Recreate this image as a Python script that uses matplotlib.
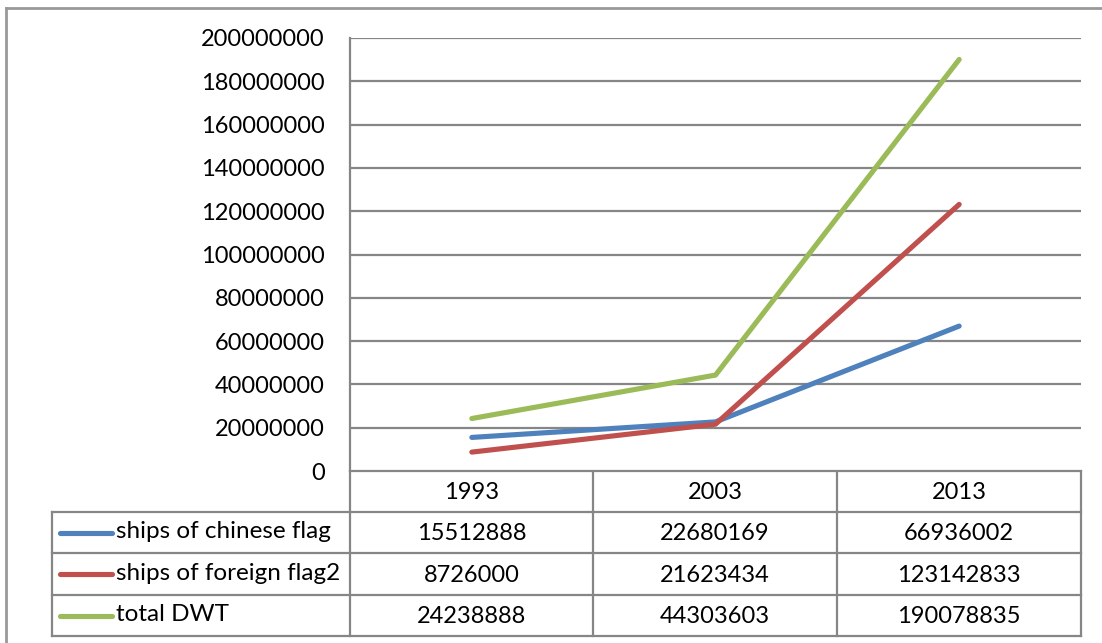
import matplotlib
matplotlib.use("Agg")
import matplotlib.pyplot as plt

plt.rcParams['font.family'] = ['Lato', 'DejaVu Sans']

years = ['1993', '2003', '2013']
chinese_flag = [15512888, 22680169, 66936002]
foreign_flag = [8726000, 21623434, 123142833]
total_dwt = [24238888, 44303603, 190078835]
series_names = ['ships of chinese flag', 'ships of foreign flag2', 'total DWT']
series_colors = ['#4F81BD', '#C0504D', '#9BBB59']
yticks = list(range(0, 200000001, 20000000))

W, H = 1102, 643
fig = plt.figure(figsize=(W / 100, H / 100), dpi=100)
grid_col = '#868686'
fsize = 17

# plot area in pixels
left, right, top, bottom = 350, 1081, 38, 471
ax = fig.add_axes([left / W, 1 - bottom / H, (right - left) / W, (bottom - top) / H])
xs = [i + 0.5 for i in range(len(years))]
for vals, col in zip([chinese_flag, foreign_flag, total_dwt], series_colors):
    ax.plot(xs, vals, color=col, lw=3.7, solid_capstyle='round', solid_joinstyle='round', zorder=3)
ax.set_xlim(0, len(years))
ax.set_ylim(0, 200000000)
ax.set_yticks(yticks)
ax.set_yticklabels([str(v) for v in yticks], fontsize=fsize)
ax.set_xticks([])
ax.tick_params(axis='y', length=0, pad=18)
ax.grid(axis='y', color=grid_col, lw=1.6)
for s in ['top', 'right', 'bottom']:
    ax.spines[s].set_visible(False)
ax.spines['left'].set_color(grid_col)
ax.spines['left'].set_linewidth(1.6)
ax.set_axisbelow(True)

# overlay in pixel coordinates for the data table and frame
ov = fig.add_axes([0, 0, 1, 1], zorder=-1)
ov.set_xlim(0, W)
ov.set_ylim(H, 0)
ov.axis('off')

# outer frame
ov.plot([6, W], [8, 8], color='#999999', lw=2)
ov.plot([6, 6], [8, H], color='#999999', lw=2)

cols = [350, 593, 837, 1081]
rows = [471, 512, 553, 595, 636]
leg_left = 52
# horizontal lines
ov.plot([cols[0], cols[-1]], [rows[0], rows[0]], color=grid_col, lw=1.6)
for r in rows[1:]:
    ov.plot([leg_left, cols[-1]], [r, r], color=grid_col, lw=1.6)
for c in cols:
    ov.plot([c, c], [rows[0], rows[-1]], color=grid_col, lw=1.6)
ov.plot([leg_left, leg_left], [rows[1], rows[-1]], color=grid_col, lw=1.6)

# header
for i, yr in enumerate(years):
    ov.text((cols[i] + cols[i + 1]) / 2, (rows[0] + rows[1]) / 2 + 1, yr,
            ha='center', va='center', fontsize=fsize)

for j, (name, col, vals) in enumerate(zip(series_names, series_colors,
                                          [chinese_flag, foreign_flag, total_dwt])):
    yc = (rows[j + 1] + rows[j + 2]) / 2
    ov.plot([60, 112], [yc, yc], color=col, lw=3.7, solid_capstyle='round')
    ov.text(116, yc - 1, name, ha='left', va='center', fontsize=17.5)
    for i, v in enumerate(vals):
        ov.text((cols[i] + cols[i + 1]) / 2, yc + 1, str(v),
                ha='center', va='center', fontsize=fsize)

fig.savefig('out.png', dpi=100)
